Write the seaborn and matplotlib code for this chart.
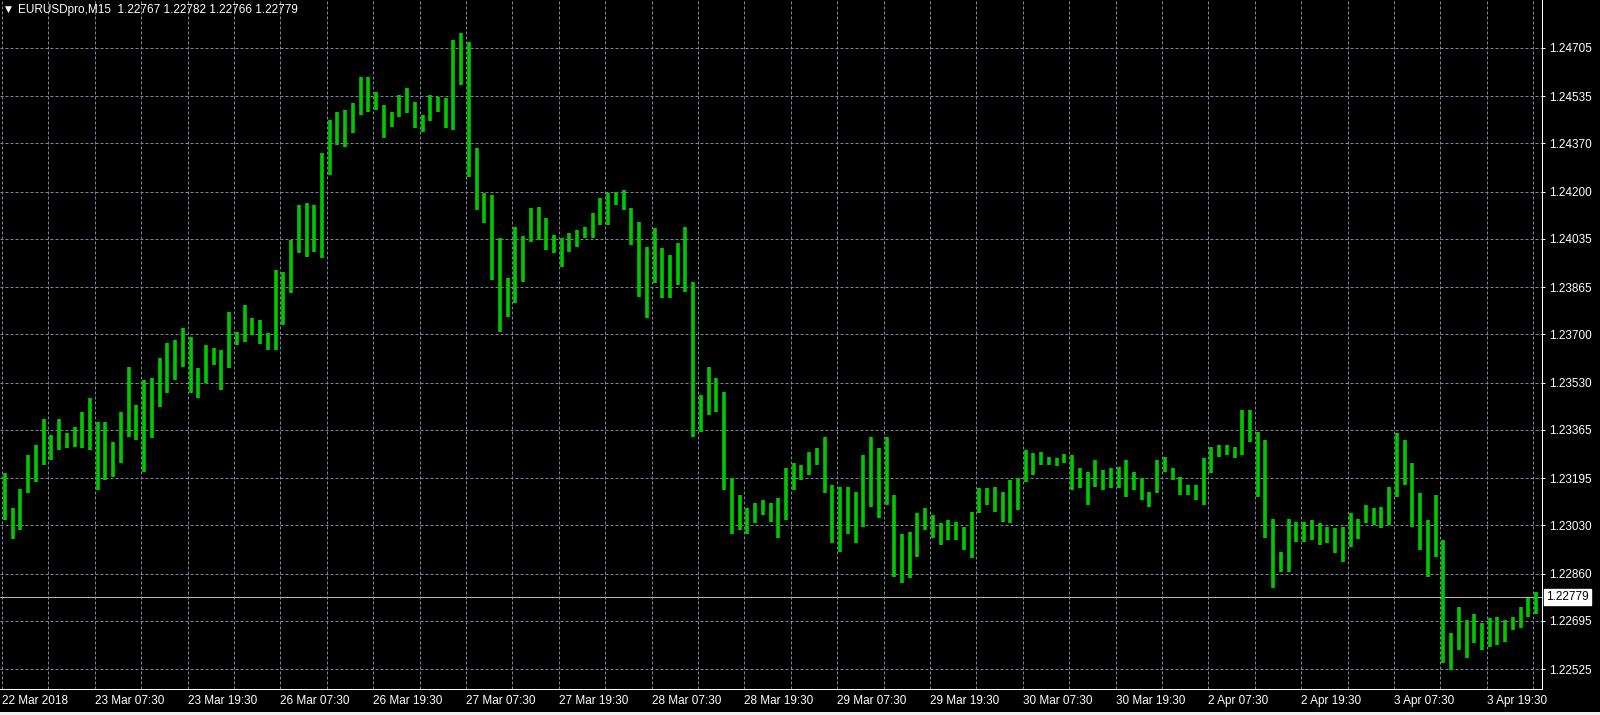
import numpy as np
import pandas as pd
import seaborn as sns
import matplotlib.pyplot as plt
from matplotlib.patches import Rectangle

high = [1.23215, 1.23090, 1.23156, 1.23277, 1.23312, 1.23402, 1.23347, 1.23402, 1.23353, 1.23376,
        1.23428, 1.23475, 1.23393, 1.23393, 1.23323, 1.23428, 1.23584, 1.23452, 1.23540, 1.23546,
        1.23616, 1.23668, 1.23680, 1.23721, 1.23691, 1.23581, 1.23662, 1.23651, 1.23645, 1.23779,
        1.23709, 1.23803, 1.23756, 1.23750, 1.23703, 1.23925, 1.23919, 1.24031, 1.24153, 1.24159,
        1.24153, 1.24335, 1.24451, 1.24481, 1.24487, 1.24510, 1.24603, 1.24603, 1.24551, 1.24504,
        1.24481, 1.24539, 1.24563, 1.24516, 1.24469, 1.24539, 1.24533, 1.24528, 1.24732, 1.24756,
        1.24726, 1.24352, 1.24194, 1.24188, 1.24037, 1.23896, 1.24077, 1.24045, 1.24142, 1.24147,
        1.24107, 1.24048, 1.24037, 1.24054, 1.24066, 1.24077, 1.24124, 1.24177, 1.24194, 1.24200,
        1.24206, 1.24142, 1.24095, 1.24007, 1.24072, 1.24002, 1.23978, 1.24019, 1.24077, 1.23884,
        1.23487, 1.23586, 1.23546, 1.23499, 1.23195, 1.23136, 1.23090, 1.23107, 1.23119, 1.23107,
        1.23125, 1.23230, 1.23248, 1.23242, 1.23288, 1.23300, 1.23341, 1.23171, 1.23165, 1.23165,
        1.23148, 1.23277, 1.23341, 1.23300, 1.23341, 1.23136, 1.23000, 1.23006, 1.23072, 1.23090,
        1.23066, 1.23037, 1.23049, 1.23043, 1.23025, 1.23078, 1.23160, 1.23160, 1.23165, 1.23148,
        1.23189, 1.23195, 1.23294, 1.23283, 1.23287, 1.23271, 1.23265, 1.23280, 1.23277, 1.23230,
        1.23218, 1.23259, 1.23224, 1.23230, 1.23236, 1.23259, 1.23218, 1.23195, 1.23148, 1.23259,
        1.23271, 1.23230, 1.23200, 1.23171, 1.23171, 1.23267, 1.23306, 1.23312, 1.23312, 1.23306,
        1.23434, 1.23434, 1.23358, 1.23329, 1.23052, 1.22937, 1.23052, 1.23043, 1.23042, 1.23049,
        1.23037, 1.23025, 1.23020, 1.23025, 1.23072, 1.23052, 1.23101, 1.23090, 1.23095, 1.23165,
        1.23353, 1.23329, 1.23248, 1.23142, 1.23049, 1.23136, 1.22979, 1.22651, 1.22745, 1.22698,
        1.22720, 1.22686, 1.22704, 1.22710, 1.22698, 1.22710, 1.22745, 1.22774, 1.22797, 1.22782]

low = [1.23049, 1.22981, 1.23014, 1.23142, 1.23183, 1.23242, 1.23259, 1.23294, 1.23300, 1.23306,
       1.23300, 1.23294, 1.23154, 1.23189, 1.23200, 1.23248, 1.23341, 1.23329, 1.23218, 1.23335,
       1.23446, 1.23493, 1.23540, 1.23586, 1.23493, 1.23475, 1.23528, 1.23592, 1.23505, 1.23581,
       1.23662, 1.23674, 1.23697, 1.23666, 1.23645, 1.23645, 1.23733, 1.23844, 1.23984, 1.23972,
       1.23990, 1.23966, 1.24259, 1.24364, 1.24358, 1.24405, 1.24469, 1.24481, 1.24487, 1.24387,
       1.24428, 1.24463, 1.24475, 1.24422, 1.24410, 1.24446, 1.24481, 1.24422, 1.24416, 1.24574,
       1.24253, 1.24136, 1.24089, 1.23890, 1.23709, 1.23762, 1.23809, 1.23883, 1.24025, 1.24031,
       1.23996, 1.23984, 1.23937, 1.23990, 1.24007, 1.24037, 1.24037, 1.24083, 1.24083, 1.24153,
       1.24136, 1.24013, 1.23832, 1.23756, 1.23879, 1.23826, 1.23826, 1.23873, 1.23849, 1.23341,
       1.23358, 1.23417, 1.23428, 1.23154, 1.23000, 1.23014, 1.23000, 1.23037, 1.23066, 1.23043,
       1.22987, 1.23049, 1.23154, 1.23189, 1.23206, 1.23242, 1.23142, 1.22967, 1.22937, 1.23000,
       1.22967, 1.23025, 1.23095, 1.23055, 1.23101, 1.22850, 1.22827, 1.22844, 1.22920, 1.23014,
       1.22985, 1.22961, 1.22979, 1.22979, 1.22943, 1.22914, 1.23072, 1.23101, 1.23078, 1.23043,
       1.23037, 1.23084, 1.23183, 1.23206, 1.23242, 1.23242, 1.23238, 1.23248, 1.23154, 1.23160,
       1.23101, 1.23165, 1.23154, 1.23160, 1.23160, 1.23130, 1.23154, 1.23119, 1.23095, 1.23142,
       1.23218, 1.23189, 1.23136, 1.23136, 1.23119, 1.23101, 1.23212, 1.23271, 1.23277, 1.23267,
       1.23277, 1.23323, 1.23130, 1.22985, 1.22809, 1.22867, 1.22867, 1.22973, 1.22972, 1.22979,
       1.22961, 1.22967, 1.22932, 1.22902, 1.22955, 1.22982, 1.23037, 1.23031, 1.23020, 1.23031,
       1.23130, 1.23171, 1.23025, 1.22943, 1.22850, 1.22920, 1.22546, 1.22523, 1.22593, 1.22564,
       1.22616, 1.22593, 1.22604, 1.22610, 1.22622, 1.22663, 1.22669, 1.22710, 1.22720, 1.22760]

time_labels = ['22 Mar 2018', '23 Mar 07:30', '23 Mar 19:30', '26 Mar 07:30', '26 Mar 19:30',
               '27 Mar 07:30', '27 Mar 19:30', '28 Mar 07:30', '28 Mar 19:30', '29 Mar 07:30',
               '29 Mar 19:30', '30 Mar 07:30', '30 Mar 19:30', '2 Apr 07:30', '2 Apr 19:30',
               '3 Apr 07:30', '3 Apr 19:30']
price_labels = ['1.24705', '1.24535', '1.24370', '1.24200', '1.24035', '1.23865', '1.23700',
                '1.23530', '1.23365', '1.23195', '1.23030', '1.22860', '1.22695', '1.22525']
last_price = 1.22779
header = 'EURUSDpro,M15  1.22767 1.22782 1.22766 1.22779'

df = pd.DataFrame({'high': high, 'low': low})
df['bar'] = np.arange(len(df)) + 0.375

sns.set_style('dark', {'axes.facecolor': 'black', 'figure.facecolor': 'black'})
plt.rcParams['font.family'] = ['Liberation Sans', 'DejaVu Sans']

grid_kw = dict(color='#778899', linewidth=0.72, linestyle=(0, (3, 2)))
bar_green = '#00c800'

fig = plt.figure(figsize=(16, 7.15), dpi=100)
ax = fig.add_axes([0, 26 / 715, 1542 / 1600, 689 / 715])
ax.set_facecolor('black')

ax.vlines(df.bar, df.low, df.high, color=bar_green, linewidth=2.6, zorder=3)

# price line + label
ax.axhline(last_price, color='#b4b4b4', linewidth=0.72, zorder=2)
ax.text(1.0028, last_price, '1.22779', transform=ax.get_yaxis_transform(),
        ha='left', va='center', fontsize=8.5, color='black', clip_on=False,
        bbox=dict(boxstyle='square,pad=0.18', fc='white', ec='white'))

ax.set_xlim(-0.26, 199.13)
ax.set_ylim(1.22456, 1.24872)

ax.set_xticks(np.arange(0, 12 * len(time_labels), 12))
ax.set_xticklabels(time_labels)
ax.set_xticks(np.arange(6, 199, 12), minor=True)
for lab in ax.get_xticklabels():
    lab.set_horizontalalignment('left')

ax.yaxis.tick_right()
ax.set_yticks([float(p) for p in price_labels])
ax.set_yticklabels(price_labels)

ax.grid(True, which='both', axis='x', **grid_kw)
ax.grid(True, which='major', axis='y', **grid_kw)
ax.set_axisbelow(True)

ax.tick_params(axis='x', which='major', length=2.5, width=0.72, color='white',
               labelcolor='white', labelsize=8.5, pad=1.5, direction='out')
ax.tick_params(axis='x', which='minor', length=0)
ax.tick_params(axis='y', which='major', length=2.2, width=0.72, color='white',
               labelcolor='white', labelsize=8.5, pad=2.6, direction='out')

for side in ['left', 'top']:
    ax.spines[side].set_visible(False)
for side in ['right', 'bottom']:
    ax.spines[side].set_color('white')
    ax.spines[side].set_linewidth(0.72)

fig.text(5 / 1600, 1 - 9.5 / 715, '\u25bc', fontsize=6.5, color='white',
         va='center', ha='left', family=['DejaVu Sans'])
fig.text(18 / 1600, 1 - 9.5 / 715, header, fontsize=8.5, color='white',
         va='center', ha='left')

fig.patches.append(Rectangle((0, 0), 1, 3 / 715, transform=fig.transFigure,
                             facecolor='#f0f0f0', edgecolor='none'))

fig.savefig('out.png', dpi=100, facecolor='black')
